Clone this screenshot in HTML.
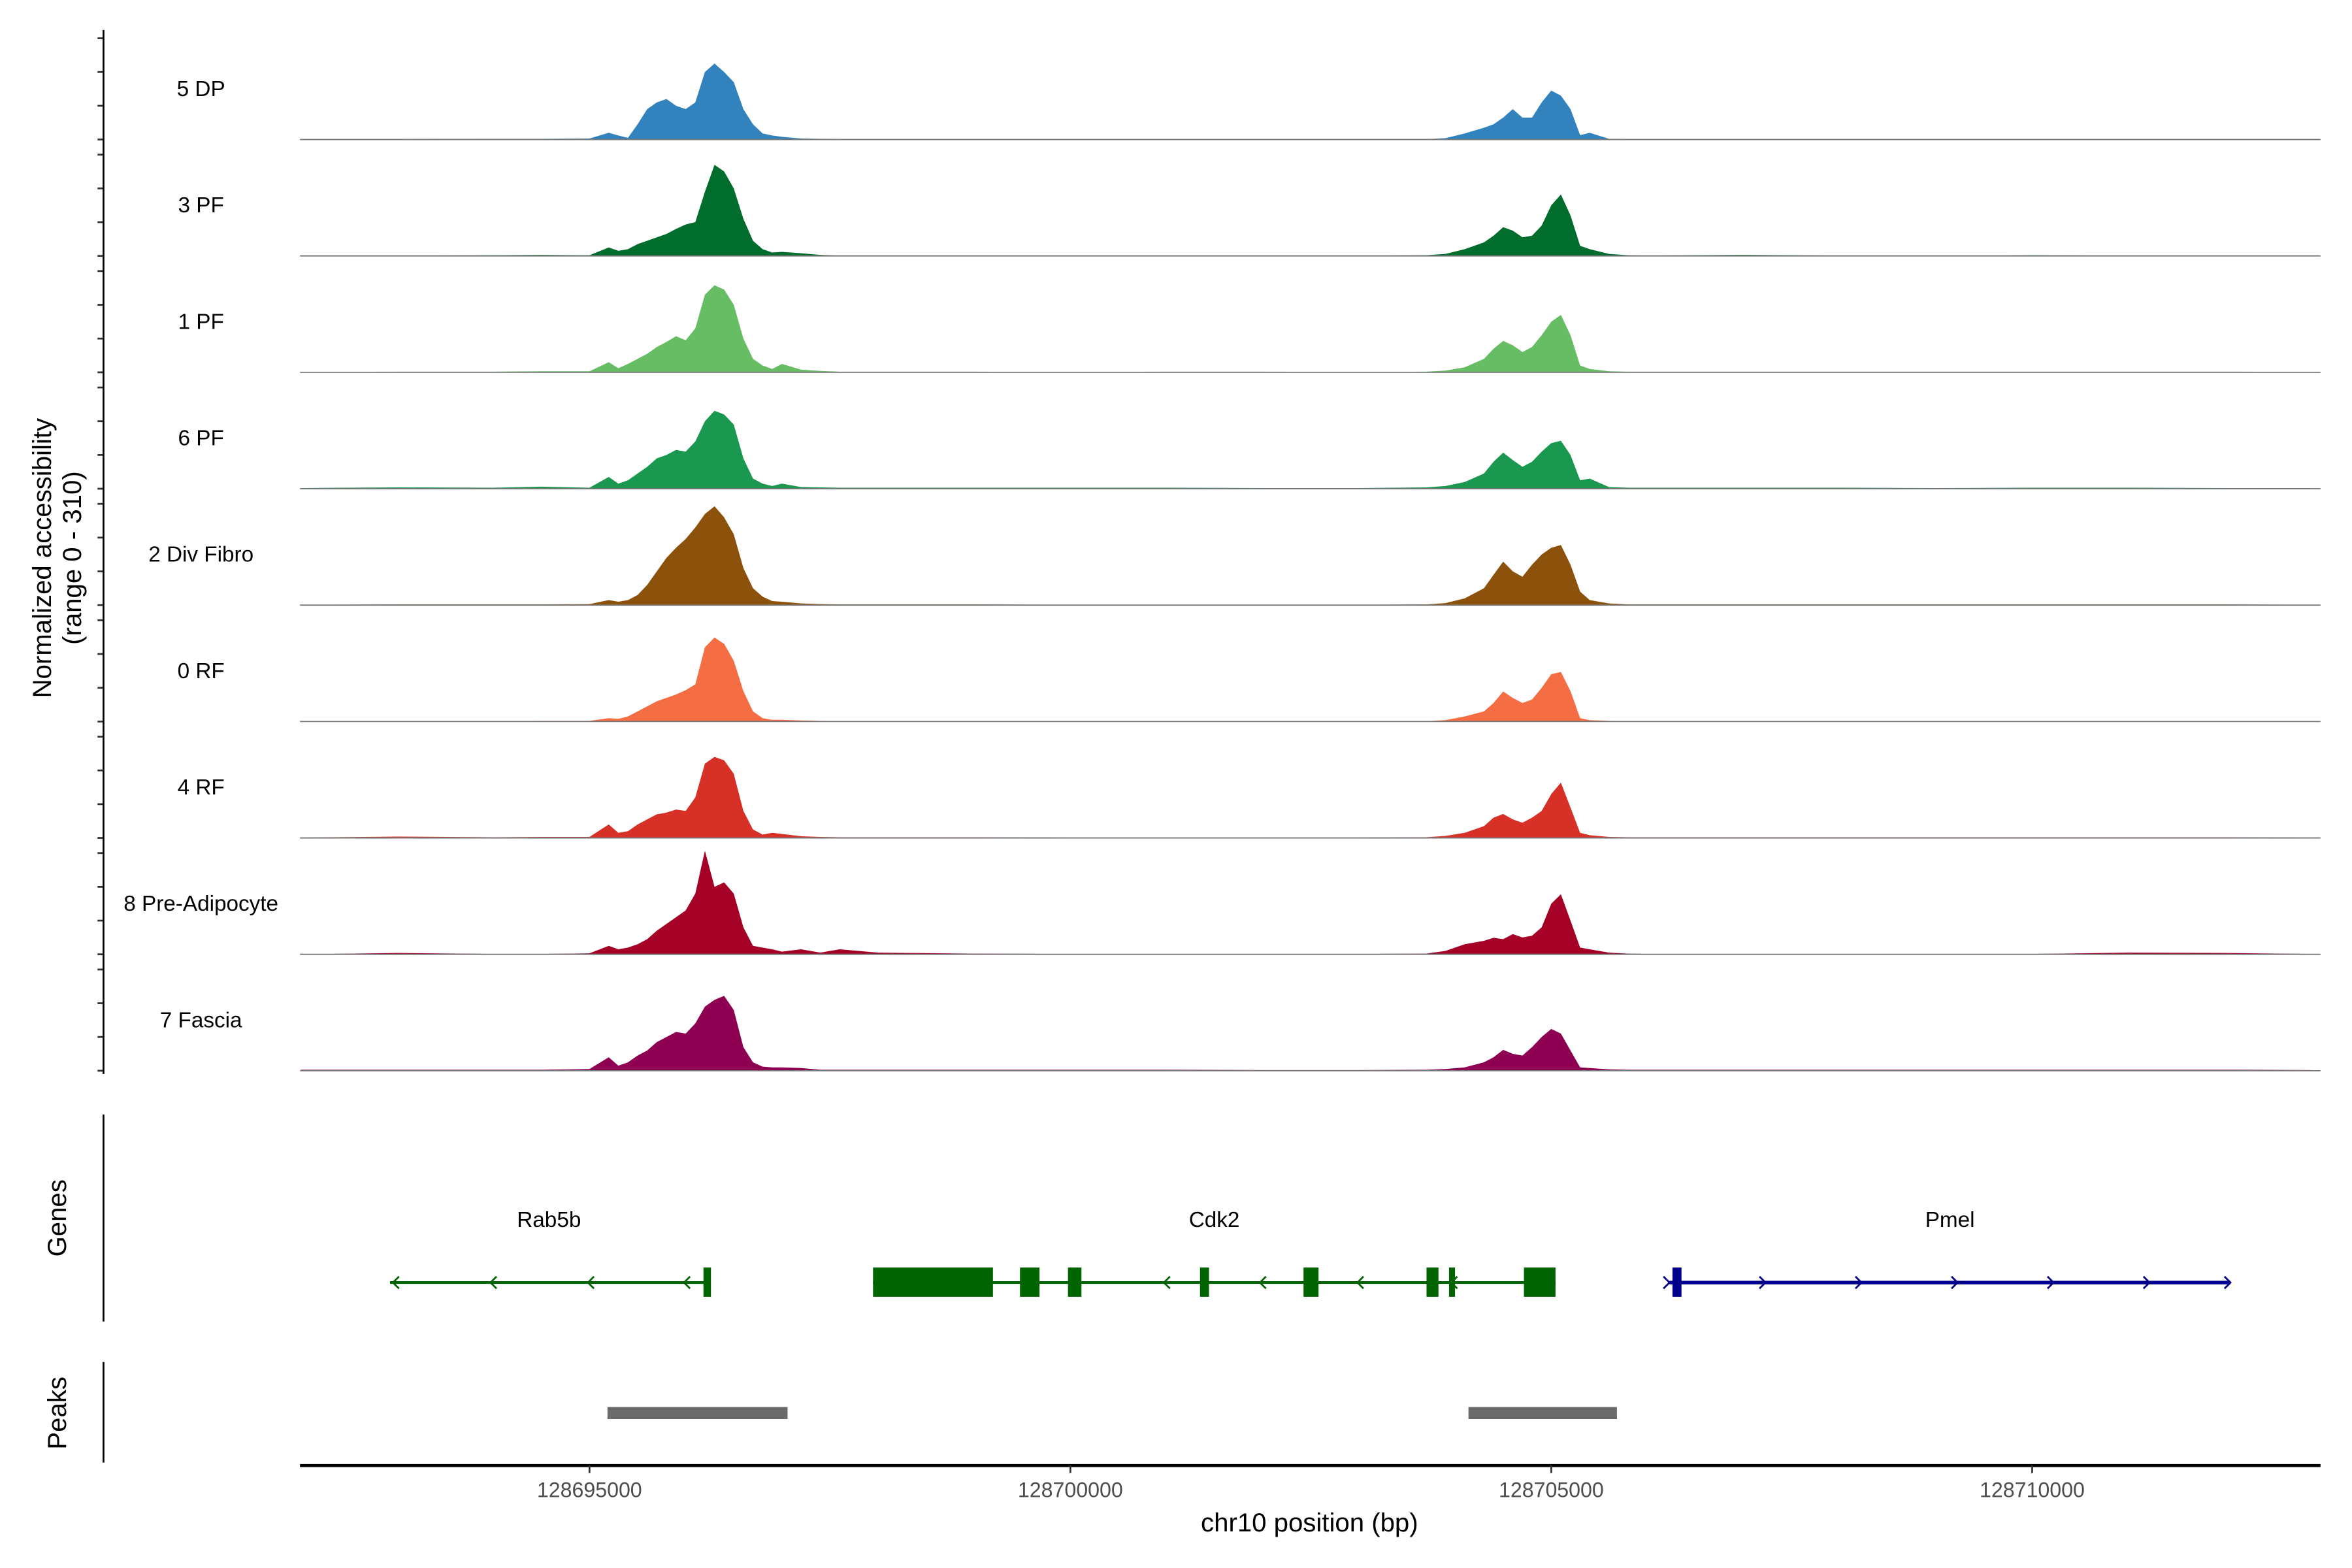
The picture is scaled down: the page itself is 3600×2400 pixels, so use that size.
<!DOCTYPE html>
<html><head><meta charset="utf-8"><style>
html,body{margin:0;padding:0;background:#fff;}
svg{display:block;font-family:"Liberation Sans",Arial,sans-serif;}
</style></head><body>
<svg id="chart" width="3600" height="2400" viewBox="0 0 1568 1045.3" preserveAspectRatio="none" xmlns="http://www.w3.org/2000/svg">
<rect x="0" y="0" width="1568" height="1045.3" fill="#fff"/>
<g id="tracks"></g>
<g id="yaxis"></g>
<text transform="translate(34,372) rotate(-90)" text-anchor="middle" font-size="17.5" fill="#000">Normalized accessibility</text>
<text transform="translate(54,372) rotate(-90)" text-anchor="middle" font-size="17.5" fill="#000">(range 0 - 310)</text>
<line x1="69" y1="743" x2="69" y2="881" stroke="#000" stroke-width="1.2"/>
<text transform="translate(44,812) rotate(-90)" text-anchor="middle" font-size="17.5">Genes</text>
<g id="genes"></g>
<line x1="69" y1="908" x2="69" y2="975" stroke="#000" stroke-width="1.2"/>
<text transform="translate(44,942) rotate(-90)" text-anchor="middle" font-size="17.5">Peaks</text>
<g id="peaks"></g>
<g id="xaxis"></g>
<text x="873" y="1021" text-anchor="middle" font-size="17.5">chr10 position (bp)</text>
</svg>
<script>
const positions = [128692000,128693000,128694000,128694500,128695000,128695200,128695300,128695400,128695500,128695600,128695700,128695800,128695900,128696000,128696100,128696200,128696300,128696400,128696500,128696600,128696700,128696800,128696900,128697000,128697200,128697400,128697600,128698000,128699000,128700000,128701000,128702000,128703000,128703700,128703900,128704100,128704300,128704400,128704500,128704600,128704700,128704800,128704900,128705000,128705100,128705200,128705300,128705400,128705600,128705800,128706000,128707000,128708000,128709000,128710000,128711000,128712000,128712900];
const trackNames = ["5 DP","3 PF","1 PF","6 PF","2 Div Fibro","0 RF","4 RF","8 Pre-Adipocyte","7 Fascia"];
const trackColors = ["#3182BD","#006D2C","#66BD63","#1A9850","#8C510A","#F46D43","#D73027","#A50026","#8E0152"];
const v5DP = [0,1,2,2,3,20,12,5,45,90,110,120,100,90,110,200,225,200,170,90,45,18,12,8,3,2,1,1,0,0,0,0,0,1,4,18,35,45,65,90,65,65,110,145,130,90,13,20,2,1,0,1,1,0,0,0,0,0];
const v3PF = [0,1,2,3,2,25,15,20,35,45,55,65,80,93,100,190,270,250,200,110,45,20,10,12,8,3,1,1,1,0,1,1,1,2,6,20,40,60,85,75,55,60,90,150,182,120,30,20,6,2,1,3,1,0,2,1,1,0];
const v1PF = [1,2,2,3,3,30,12,25,40,55,75,90,107,95,130,230,258,245,200,100,40,20,10,25,8,4,2,2,2,1,2,2,1,2,5,15,40,70,93,80,60,75,110,150,170,110,20,10,3,2,2,2,2,2,2,2,2,1];
const v6PF = [2,4,3,6,3,35,15,25,45,65,90,100,115,110,140,200,231,220,190,90,30,15,8,15,5,4,3,3,3,3,3,2,2,4,8,20,45,80,107,85,65,80,110,135,142,100,25,30,5,3,3,3,3,2,3,3,2,2];
const v2DF = [1,2,2,2,3,15,10,15,30,60,100,140,170,196,230,270,293,260,210,110,50,25,12,10,5,3,2,2,2,1,1,1,1,2,6,20,50,90,129,100,84,120,150,170,178,120,40,15,5,2,2,2,2,2,2,2,2,1];
const v0RF = [0,1,1,2,2,10,8,15,30,45,60,70,80,93,110,220,249,230,180,90,30,10,5,5,3,2,1,1,1,0,0,0,0,1,4,15,30,55,89,70,55,65,100,140,147,90,10,4,2,1,1,1,1,0,0,0,0,0];
const v4RF = [1,4,2,3,3,40,15,20,40,55,70,75,84,80,120,220,240,230,190,80,25,10,15,12,5,3,2,2,2,1,1,1,1,2,6,15,35,60,71,55,45,60,80,130,164,90,15,8,3,2,2,2,2,2,2,2,2,1];
const v8PA = [0,4,1,1,3,25,15,20,30,45,70,90,110,130,180,307,200,213,180,80,25,20,15,8,15,5,15,5,2,1,1,1,1,2,10,30,40,49,45,60,50,55,80,150,178,100,20,15,5,2,1,1,1,1,1,5,4,1];
const v7FA = [3,3,3,3,5,40,15,25,45,60,85,100,115,110,140,190,210,222,180,70,25,12,10,10,8,3,3,3,3,3,3,2,2,3,5,10,25,40,62,50,45,70,100,124,110,60,10,8,4,3,3,3,3,3,3,3,3,2];
const trackValues = [v5DP,v3PF,v1PF,v6PF,v2DF,v0RF,v4RF,v8PA,v7FA];
const yTicks = [0,100,200,300];
const xTicks = [128695000,128700000,128705000,128710000];
const geneNames = ["Rab5b","Cdk2","Pmel"];
const geneStarts = [128692926,128697948,128706229];
const geneEnds = [128696232,128705044,128712062];
const geneStrands = [-1,-1,1];
const geneColors = ["#006400","#006400","#00008B"];
const geneExons = [
  [[128696185,128696263]],
  [[128697948,128699195],[128699476,128699679],[128699975,128700115],[128701348,128701441],[128702424,128702580],[128703703,128703827],[128703937,128703999],[128704716,128705044]],
  [[128706260,128706354]]
];
const geneArrows = [
  [128692957,128693971,128694984,128695983],
  [128700000,128700973,128701971,128702985,128703960],
  [128706229,128707227,128708225,128709224,128710222,128711220,128712062]
];
const peakStarts = [128695187,128704139];
const peakEnds = [128697059,128705683];

const NS="http://www.w3.org/2000/svg";
const X0=200, X1=1547, BP0=128691990, BP1=128712998;
function xs(bp){return X0+(bp-BP0)/(BP1-BP0)*(X1-X0);}
const baseTop=93, trackH=77.6, yPerUnit=0.225;
function base(i){return baseTop+i*trackH;}
function ys(i,v){return base(i)-v*yPerUnit;}
function mk(tag,attrs,parent){const e=document.createElementNS(NS,tag);for(const k in attrs)e.setAttribute(k,attrs[k]);parent.appendChild(e);return e;}

const gT=document.getElementById('tracks');
const gY=document.getElementById('yaxis');
trackNames.forEach((nm,i)=>{
  const vals=trackValues[i];
  let d='M'+xs(positions[0])+','+base(i);
  positions.forEach((p,j)=>{d+=' L'+xs(p).toFixed(2)+','+ys(i,vals[j]).toFixed(2);});
  d+=' L'+xs(positions[positions.length-1])+','+base(i)+' Z';
  const a=mk('path',{d:d,fill:trackColors[i],stroke:'none'},gT);
  
  
  const bl=mk('line',{x1:X0,x2:X1,y1:base(i),y2:base(i),stroke:'#777','stroke-width':0.8},gT);
  
  
  const t=mk('text',{x:134,y:base(i)-29,'text-anchor':'middle','font-size':14.5,fill:'#000'},gT);
  t.textContent=nm;
  
  
  yTicks.forEach(v=>{
    const tk=mk('line',{x1:65,x2:69,y1:ys(i,v),y2:ys(i,v),stroke:'#333','stroke-width':1.2},gY);
    
    
  });
});
const ya=mk('line',{x1:69,x2:69,y1:20,y2:716,stroke:'#000','stroke-width':1.2},gY);



const gG=document.getElementById('genes');
const gy=855;
geneNames.forEach((nm,i)=>{
  const c=geneColors[i];
  const ln=mk('line',{x1:xs(geneStarts[i]),x2:xs(geneEnds[i]),y1:gy,y2:gy,stroke:c,'stroke-width':i==2?2.4:1.8},gG);
  
  
  geneExons[i].forEach(ex=>{
    const w=Math.max(xs(ex[1])-xs(ex[0]),3.5);
    const r=mk('rect',{x:xs(ex[0]),y:845,width:w,height:19.5,fill:c},gG);
    
    
  });
  geneArrows[i].forEach(p=>{
    const x=xs(p), s=geneStrands[i]*4;
    const ar=mk('path',{d:'M'+(x-s)+','+(gy-4)+' L'+x+','+gy+' L'+(x-s)+','+(gy+4),fill:'none',stroke:c,'stroke-width':1.2},gG);
    
    
  });
  const lbl=mk('text',{x:(xs(geneStarts[i])+xs(geneEnds[i]))/2,y:818,'text-anchor':'middle','font-size':14.5,fill:'#000'},gG);
  lbl.textContent=nm;
  
  
});

const gP=document.getElementById('peaks');
peakStarts.forEach((s,i)=>{
  const r=mk('rect',{x:xs(s),y:938,width:xs(peakEnds[i])-xs(s),height:8,fill:'#6b6b6b'},gP);
  
  
});

const gX=document.getElementById('xaxis');
const xl=mk('line',{x1:X0,x2:X1,y1:977,y2:977,stroke:'#000','stroke-width':2},gX);


xTicks.forEach(t=>{
  const tk=mk('line',{x1:xs(t),x2:xs(t),y1:977,y2:982,stroke:'#333','stroke-width':1.2},gX);
  
  
  const tl=mk('text',{x:xs(t),y:998,'text-anchor':'middle','font-size':14,fill:'#4d4d4d'},gX);
  tl.textContent=String(t);
  
  
});
</script>
</body></html>
